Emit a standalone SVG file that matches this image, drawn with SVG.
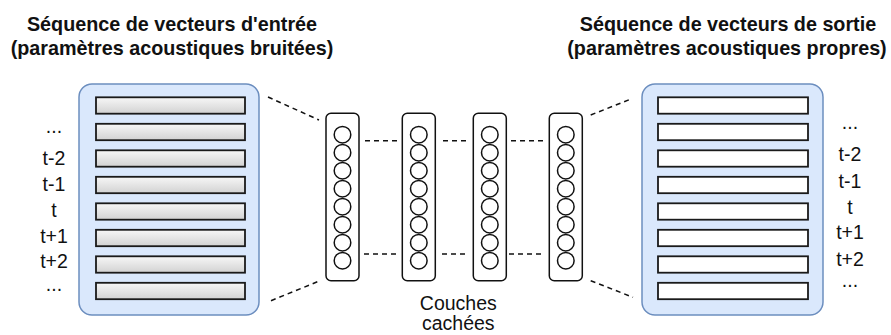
<svg xmlns="http://www.w3.org/2000/svg" width="891" height="335" viewBox="0 0 891 335">
  <defs>
    <linearGradient id="barGrad" x1="0" y1="0" x2="0" y2="1">
      <stop offset="0" stop-color="#f7f7f7"/>
      <stop offset="1" stop-color="#d2d2d2"/>
    </linearGradient>
  </defs>
  <style>
    .title { font-family: "Liberation Sans", Arial, sans-serif; font-size: 19.75px; font-weight: bold; fill: #111; text-anchor: middle; }
    .lbl { font-family: "Liberation Sans", Arial, sans-serif; font-size: 19.5px; fill: #111; text-anchor: middle; }
    .container { fill: #dae8fc; stroke: #6c8ebf; stroke-width: 1.5; }
    .barIn { fill: url(#barGrad); stroke: #1a1a1a; stroke-width: 1.8; }
    .barOut { fill: #ffffff; stroke: #1a1a1a; stroke-width: 1.8; }
    .layer { fill: #ffffff; stroke: #111; stroke-width: 1.5; }
    .neuron { fill: #ffffff; stroke: #111; stroke-width: 1.5; }
    .dash { fill: none; stroke: #111; stroke-width: 1.5; stroke-dasharray: 5 4; }
  </style>
  <rect width="891" height="335" fill="#ffffff"/>

  <g id="title-input">
    <text class="title" x="172" y="31">Séquence de vecteurs d'entrée</text>
    <text class="title" x="172" y="55">(paramètres acoustiques bruitées)</text>
  </g>
  <g id="title-output">
    <text class="title" x="728" y="31">Séquence de vecteurs de sortie</text>
    <text class="title" x="727" y="55">(paramètres acoustiques propres)</text>
  </g>

  <g id="input-sequence">
    <rect class="container" x="79" y="84" width="180" height="231" rx="13"/>
    <rect class="barIn" x="96" y="97.3" width="149" height="16.4"/>
    <rect class="barIn" x="96" y="123.8" width="149" height="16.4"/>
    <rect class="barIn" x="96" y="150.3" width="149" height="16.4"/>
    <rect class="barIn" x="96" y="176.8" width="149" height="16.4"/>
    <rect class="barIn" x="96" y="203.3" width="149" height="16.4"/>
    <rect class="barIn" x="96" y="229.8" width="149" height="16.4"/>
    <rect class="barIn" x="96" y="256.3" width="149" height="16.4"/>
    <rect class="barIn" x="96" y="282.8" width="149" height="16.4"/>
  </g>
  <g id="input-labels">
    <text class="lbl" x="54" y="133">...</text>
    <text class="lbl" x="54" y="165">t-2</text>
    <text class="lbl" x="54" y="191">t-1</text>
    <text class="lbl" x="54" y="217">t</text>
    <text class="lbl" x="54" y="242.5">t+1</text>
    <text class="lbl" x="54" y="268.3">t+2</text>
    <text class="lbl" x="54" y="290.5">...</text>
  </g>

  <g id="output-sequence">
    <rect class="container" x="642" y="84" width="181" height="231" rx="13"/>
    <rect class="barOut" x="658" y="97.3" width="150" height="16.4"/>
    <rect class="barOut" x="658" y="123.8" width="150" height="16.4"/>
    <rect class="barOut" x="658" y="150.3" width="150" height="16.4"/>
    <rect class="barOut" x="658" y="176.8" width="150" height="16.4"/>
    <rect class="barOut" x="658" y="203.3" width="150" height="16.4"/>
    <rect class="barOut" x="658" y="229.8" width="150" height="16.4"/>
    <rect class="barOut" x="658" y="256.3" width="150" height="16.4"/>
    <rect class="barOut" x="658" y="282.8" width="150" height="16.4"/>
  </g>
  <g id="output-labels">
    <text class="lbl" x="850" y="129">...</text>
    <text class="lbl" x="850" y="161">t-2</text>
    <text class="lbl" x="850" y="187.5">t-1</text>
    <text class="lbl" x="850" y="214">t</text>
    <text class="lbl" x="850" y="239">t+1</text>
    <text class="lbl" x="850" y="265.5">t+2</text>
    <text class="lbl" x="850" y="286.5">...</text>
  </g>

  <g id="hidden-layer-1">
    <rect class="layer" x="326" y="113.3" width="33" height="167.4" rx="5"/>
    <circle class="neuron" cx="342.5" cy="134.7" r="8.3"/>
    <circle class="neuron" cx="342.5" cy="152.7" r="8.3"/>
    <circle class="neuron" cx="342.5" cy="170.7" r="8.3"/>
    <circle class="neuron" cx="342.5" cy="188.7" r="8.3"/>
    <circle class="neuron" cx="342.5" cy="206.7" r="8.3"/>
    <circle class="neuron" cx="342.5" cy="224.7" r="8.3"/>
    <circle class="neuron" cx="342.5" cy="242.7" r="8.3"/>
    <circle class="neuron" cx="342.5" cy="260.7" r="8.3"/>
  </g>
  <g id="hidden-layer-2">
    <rect class="layer" x="402.3" y="113.3" width="33" height="167.4" rx="5"/>
    <circle class="neuron" cx="418.8" cy="134.7" r="8.3"/>
    <circle class="neuron" cx="418.8" cy="152.7" r="8.3"/>
    <circle class="neuron" cx="418.8" cy="170.7" r="8.3"/>
    <circle class="neuron" cx="418.8" cy="188.7" r="8.3"/>
    <circle class="neuron" cx="418.8" cy="206.7" r="8.3"/>
    <circle class="neuron" cx="418.8" cy="224.7" r="8.3"/>
    <circle class="neuron" cx="418.8" cy="242.7" r="8.3"/>
    <circle class="neuron" cx="418.8" cy="260.7" r="8.3"/>
  </g>
  <g id="hidden-layer-3">
    <rect class="layer" x="473.3" y="113.3" width="33" height="167.4" rx="5"/>
    <circle class="neuron" cx="489.8" cy="134.7" r="8.3"/>
    <circle class="neuron" cx="489.8" cy="152.7" r="8.3"/>
    <circle class="neuron" cx="489.8" cy="170.7" r="8.3"/>
    <circle class="neuron" cx="489.8" cy="188.7" r="8.3"/>
    <circle class="neuron" cx="489.8" cy="206.7" r="8.3"/>
    <circle class="neuron" cx="489.8" cy="224.7" r="8.3"/>
    <circle class="neuron" cx="489.8" cy="242.7" r="8.3"/>
    <circle class="neuron" cx="489.8" cy="260.7" r="8.3"/>
  </g>
  <g id="hidden-layer-4">
    <rect class="layer" x="549.3" y="113.3" width="33" height="167.4" rx="5"/>
    <circle class="neuron" cx="565.8" cy="134.7" r="8.3"/>
    <circle class="neuron" cx="565.8" cy="152.7" r="8.3"/>
    <circle class="neuron" cx="565.8" cy="170.7" r="8.3"/>
    <circle class="neuron" cx="565.8" cy="188.7" r="8.3"/>
    <circle class="neuron" cx="565.8" cy="206.7" r="8.3"/>
    <circle class="neuron" cx="565.8" cy="224.7" r="8.3"/>
    <circle class="neuron" cx="565.8" cy="242.7" r="8.3"/>
    <circle class="neuron" cx="565.8" cy="260.7" r="8.3"/>
  </g>

  <g id="hidden-label">
    <text class="lbl" x="458.3" y="310">Couches</text>
    <text class="lbl" x="458.3" y="330">cachées</text>
  </g>

  <g id="connectors">
    <line class="dash" x1="268" y1="97" x2="319" y2="120"/>
    <line class="dash" x1="271" y1="300.7" x2="320" y2="280.7"/>
    <line class="dash" x1="365" y1="140.7" x2="400" y2="140.7"/>
    <line class="dash" x1="443" y1="140.7" x2="467" y2="140.7"/>
    <line class="dash" x1="511" y1="140.7" x2="545" y2="140.7"/>
    <line class="dash" x1="364" y1="254" x2="398" y2="254"/>
    <line class="dash" x1="442" y1="254" x2="467" y2="254"/>
    <line class="dash" x1="509" y1="254" x2="543" y2="254"/>
    <line class="dash" x1="590.7" y1="115" x2="631" y2="99"/>
    <line class="dash" x1="590.7" y1="280.7" x2="633" y2="297.3"/>
  </g>
</svg>
